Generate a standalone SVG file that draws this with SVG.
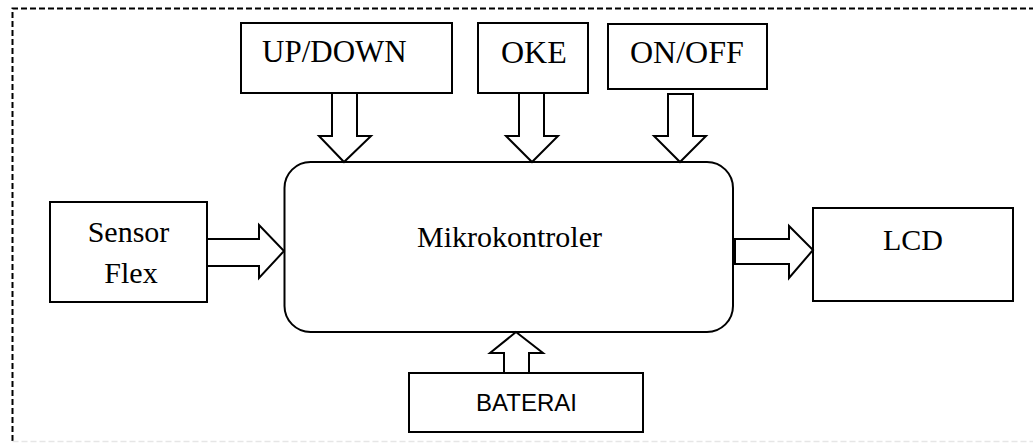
<svg xmlns="http://www.w3.org/2000/svg" width="1033" height="443" viewBox="0 0 1033 443">
<style>
.box{fill:#fff;stroke:#000;stroke-width:2}
.arr{fill:#fff;stroke:#000;stroke-width:2;stroke-linejoin:miter}
.t{font-family:"Liberation Serif","Times New Roman",serif;fill:#000}
.s{font-family:"Liberation Sans",Arial,sans-serif;fill:#000}
</style>
<rect width="1033" height="443" fill="#fff"/>
<g id="frame">
<path d="M12.5,441 V8.5 H1033" fill="none" stroke="#000" stroke-width="2" stroke-dasharray="6,3"/>
<path d="M12.5,441.5 H1033" fill="none" stroke="#e6e6e6" stroke-width="1.5" stroke-dasharray="6,3"/>
</g>
<g id="updown"><rect class="box" x="241" y="23" width="211" height="70"/><text class="t" x="262" y="62" font-size="31">UP/DOWN</text></g>
<g id="oke"><rect class="box" x="478" y="23" width="110" height="70"/><text class="t" x="501" y="63" font-size="32">OKE</text></g>
<g id="onoff"><rect class="box" x="608" y="24" width="159" height="65"/><text class="t" x="630" y="63" font-size="32">ON/OFF</text></g>
<g id="mikro"><rect class="box" x="284.5" y="162" width="448.5" height="170" rx="26" ry="26"/><text class="t" x="417" y="247" font-size="30">Mikrokontroler</text></g>
<g id="sensor"><rect class="box" x="50" y="202" width="157" height="100"/><text class="t" x="128.5" y="242" font-size="30" text-anchor="middle">Sensor</text><text class="t" x="131" y="283" font-size="30" text-anchor="middle">Flex</text></g>
<g id="lcd"><rect class="box" x="813" y="208" width="200" height="93"/><text class="t" x="913" y="250" font-size="30" text-anchor="middle">LCD</text></g>
<g id="baterai"><rect class="box" x="409" y="373" width="234" height="59"/><text class="s" x="526.5" y="411" font-size="24" text-anchor="middle">BATERAI</text></g>
<g id="connectors">
<polygon class="arr" points="332,93 357,93 357,136 371,136 344,162 319,136 332,136"/>
<polygon class="arr" points="519,93 544,93 544,136 558,136 532,162 506,136 519,136"/>
<polygon class="arr" points="668,94 693,94 693,136 706,136 680,162 654,136 668,136"/>
<polygon class="arr" points="207,239 259,239 259,225 284,251 259,278 259,266 207,266"/>
<polygon class="arr" points="735,239 789,239 789,226 813,250 789,278 789,264 735,264"/>
<polygon class="arr" points="504,373 504,353 490,353 516,332 543,353 529,353 529,373"/>
</g>
</svg>
